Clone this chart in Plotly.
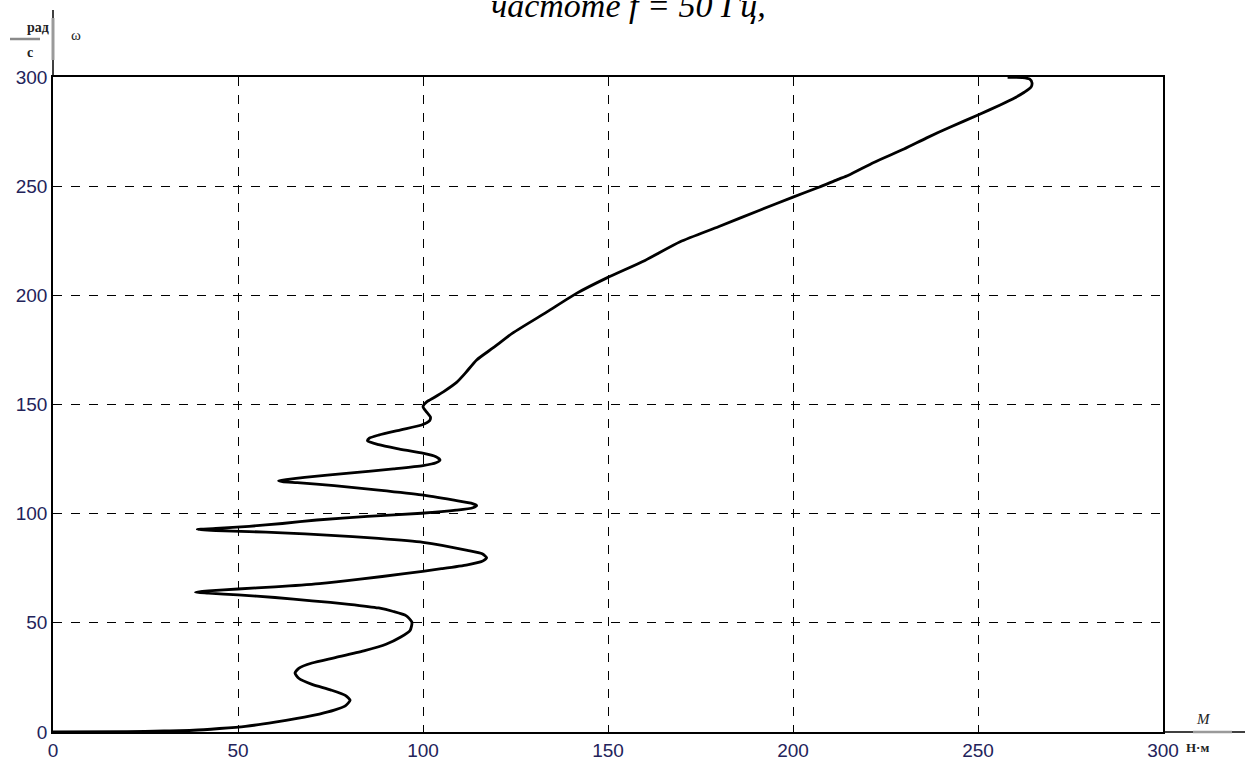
import plotly.graph_objects as go

# Torque M (N·m) and angular speed omega (rad/s)
M = [0, 20, 30, 38, 45, 52, 60, 66, 72, 76, 79, 80.3, 79, 75, 70, 66.5, 65.4, 66.5, 70, 76, 84, 90, 94,
     96.5, 97, 95.5, 92, 88, 80, 70, 60, 50, 42, 38.5, 42, 50, 60, 72, 83, 95, 105, 112, 116, 117.2,
     116, 112, 100, 88, 74, 62, 53, 44, 39, 44, 53, 62, 71.3, 85, 99.6, 109, 113.5, 114.5, 113, 108,
     99.6, 88, 76, 66, 62, 61, 63, 68, 80, 92, 100, 103.5, 104.6, 103.5, 99.6, 93, 88, 85, 85.5, 88,
     94, 99.6, 101.8, 102, 101, 100, 101, 103, 105.5, 109, 111.5, 114.5, 119, 124.3, 133.5, 141.6,
     149.7, 160, 169.5, 180, 191, 200, 207, 212, 215, 222, 230, 236, 242.4, 250, 256, 260, 262.5,
     264.3, 264.6, 264, 262, 258]
W = [0, 0.2, 0.45, 0.8, 1.6, 2.6, 4.5, 6.2, 8.2, 10, 12, 14.5, 16.8, 19.3, 21.8, 24.5, 27, 29.3, 31.6,
     34, 37.2, 40.2, 43.5, 46.5, 50.3, 53.2, 55.2, 56.8, 58.5, 60.1, 61.6, 62.8, 63.6, 64, 64.6, 65.5,
     66.5, 68, 70, 72.5, 74.8, 76.6, 78.2, 79.8, 81.6, 83.2, 86.9, 88.7, 90.2, 91.2, 91.8, 92.3, 92.8,
     93.2, 94.2, 95.5, 97.1, 98.8, 100.2, 101.6, 102.7, 103.7, 104.8, 106.3, 108.6, 110.8, 112.8,
     114.2, 114.7, 115.1, 115.6, 116.6, 118.6, 120.5, 122, 123.3, 124.6, 126.1, 127.8, 129.8, 131.6,
     133.4, 134.6, 136, 138.4, 140.6, 142.6, 144.3, 146.5, 149, 151.2, 153.2, 155.8, 160, 164.5, 170.4,
     176, 182.8, 192.4, 201, 208, 216, 224.5, 231.5, 239, 245, 249.5, 253, 255, 261, 267, 272, 277,
     282.6, 287.2, 290.5, 293, 295.3, 297.3, 299, 299.7, 299.8]

x_ticks = [0, 50, 100, 150, 200, 250, 300]
y_ticks = [0, 50, 100, 150, 200, 250, 300]

tick_color = "#23235a"

fig = go.Figure()
fig.add_trace(go.Scatter(x=M, y=W, mode="lines",
                         line=dict(color="black", width=2.8, shape="spline", smoothing=0.6),
                         showlegend=False, hoverinfo="skip"))

axis_common = dict(showgrid=True, gridcolor="black", griddash="dash", gridwidth=1,
                   zeroline=False, showline=True, linecolor="black", linewidth=1.5, mirror=True,
                   ticks="", automargin=False,
                   tickfont=dict(family="Arial, Liberation Sans", size=19, color=tick_color))
fig.update_xaxes(range=[0, 300], tickvals=x_ticks, ticktext=[str(v) for v in x_ticks], **axis_common)
fig.update_yaxes(range=[0, 300], tickvals=y_ticks, ticktext=[str(v) for v in y_ticks], **axis_common)

fig.update_layout(
    width=1259, height=760, autosize=False,
    margin=dict(l=53, r=96, t=77, b=28, pad=0),
    plot_bgcolor="white", paper_bgcolor="white",
)

PW, PH = 1110, 655

# Axis line extensions (Mathcad style)
fig.add_shape(type="line", xref="paper", yref="paper", x0=0, x1=0, y0=1, y1=1 + 67 / PH,
              line=dict(color="black", width=1.5))
fig.add_shape(type="line", xref="paper", yref="paper", x0=0, x1=0, y0=1 + 17 / PH, y1=1 + 59 / PH,
              line=dict(color="#9a9a9a", width=3))
fig.add_shape(type="line", xref="paper", yref="paper", x0=1, x1=1 + 82 / PW, y0=0, y1=0,
              line=dict(color="black", width=1.5))
fig.add_shape(type="line", xref="paper", yref="paper", x0=1 + 30 / PW, x1=1 + 69 / PW, y0=0, y1=0,
              line=dict(color="#9a9a9a", width=2.5))
# fraction line top-left
fig.add_shape(type="line", xref="paper", yref="paper", x0=-43 / PW, x1=-13 / PW,
              y0=1 + 38 / PH, y1=1 + 38 / PH, line=dict(color="#8a8a8a", width=2.5))

serif = "Liberation Serif, Times New Roman, serif"
fig.add_annotation(xref="paper", yref="paper", x=-28 / PW, y=1 + 50 / PH, text="<b>рад</b>",
                   showarrow=False, font=dict(family=serif, size=14, color="#222"), yanchor="middle")
fig.add_annotation(xref="paper", yref="paper", x=-28 / PW, y=1 + 24 / PH, text="<b>с</b>",
                   showarrow=False, font=dict(family=serif, size=14, color="#222"), yanchor="middle")
fig.add_annotation(xref="paper", yref="paper", x=16 / PW, y=1 + 42 / PH, text="ω",
                   showarrow=False, font=dict(family=serif, size=15, color="#222"), yanchor="middle")
fig.add_annotation(xref="paper", yref="paper", x=1 + 50 / PW, y=13 / PH, text="<i>M</i>",
                   showarrow=False, font=dict(family=serif, size=15, color="#222"), yanchor="middle")
fig.add_annotation(xref="paper", yref="paper", x=1 + 48 / PW, y=-15 / PH, text="<b>Н·м</b>",
                   showarrow=False, font=dict(family=serif, size=13, color="#222"), yanchor="middle")
# cut-off caption at the very top
fig.add_annotation(xref="paper", yref="paper", x=(628 - 53) / PW, y=1 + 51 / PH,
                   text="<i>частоте f = 50 Гц,</i>", showarrow=False, yanchor="bottom",
                   font=dict(family=serif, size=34, color="black"))

fig.write_html("out.html")
